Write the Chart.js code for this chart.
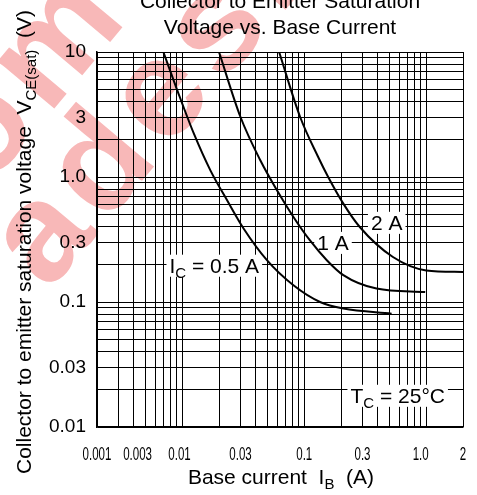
<!DOCTYPE html>
<html><head><meta charset="utf-8">
<script src="https://cdn.jsdelivr.net/npm/chart.js@4.4.1/dist/chart.umd.min.js"></script>
<style>html,body{margin:0;padding:0;background:#fff}#wrap{width:477px;height:495px;position:relative}</style>
</head><body><div id="wrap"><canvas id="c"></canvas></div>
<script>
// ---- data ----
const ib05 = [0.0070, 0.0091, 0.01245, 0.0170, 0.0233, 0.0318, 0.0494, 0.0815, 0.1346, 0.209, 0.52];
const vce05 = [10, 4.94, 2.22, 1.13, 0.651, 0.387, 0.216, 0.136, 0.100, 0.0886, 0.0807];
const ib1 = [0.020, 0.030, 0.0436, 0.0597, 0.0815, 0.111, 0.153, 0.209, 0.391, 0.98];
const vce1 = [10, 3.02, 1.36, 0.783, 0.479, 0.312, 0.216, 0.164, 0.128, 0.120];
const ib2 = [0.0622, 0.0925, 0.130, 0.157, 0.209, 0.285, 0.533, 1.0, 2.0];
const vce2 = [10, 3.02, 1.445, 1.0, 0.612, 0.398, 0.229, 0.179, 0.174];

const xGridValues = [0.002,0.003,0.004,0.005,0.006,0.007,0.008,0.009,
  0.01,0.02,0.03,0.04,0.05,0.06,0.07,0.08,0.09,
  0.1,0.2,0.3,0.4,0.5,0.6,0.7,0.8,0.9,1,2];
const yGridValues = [0.01,0.02,0.03,0.04,0.05,0.06,0.07,0.08,0.09,
  0.1,0.2,0.3,0.4,0.5,0.6,0.7,0.8,0.9,
  1,2,3,4,5,6,7,8,9,10];
const xTickValues = [0.002, 0.0043, 0.0095, 0.03, 0.1, 0.3, 0.9, 2];
const xTickLabels = ['0.001','0.003','0.01','0.03','0.1','0.3','1.0','2'];
const yTickValues = [0.01, 0.03, 0.1, 0.3, 1, 3, 10];
const yTickLabels = ['0.01','0.03','0.1','0.3','1.0','3','10'];

// curve labels: [parts, x value, y value]
const curveLabels = [
  [[{t:'2 A'}], 0.474, 0.434],
  [[{t:'1 A'}], 0.172, 0.30],
  [[{t:'I'},{t:'C',sub:true},{t:' = 0.5 A'}], 0.0183, 0.197],
  [[{t:'T'},{t:'C',sub:true},{t:' = 25°C'}], 0.583, 0.01794]
];

const FONT = "'Liberation Sans', Arial, Helvetica, sans-serif";
const XSCALE = 0.64; // horizontal squeeze of the x tick labels (condensed look)

function near(a,b){return Math.abs(Math.log10(a)-Math.log10(b))<1e-4;}
function inList(v,list){return list.some(u=>near(u,v));}
function labelFor(v,vals,labels){const i=vals.findIndex(u=>near(u,v));return i<0?'':labels[i];}
const xAll = [...new Set([...xGridValues,...xTickValues])].sort((a,b)=>a-b);
const yAll = [...new Set([...yGridValues,...yTickValues])].sort((a,b)=>a-b);

function subSize(s){return Math.round(s*0.72);}
function richWidth(ctx,parts,size){let w=0;for(const p of parts){ctx.font=`${p.sub?subSize(size):size}px ${FONT}`;w+=ctx.measureText(p.t).width;}return w;}
function drawRich(ctx,parts,x,y,size,align){
  const w=richWidth(ctx,parts,size);
  let cx = align==='center'? x-w/2 : (align==='right'? x-w : x);
  ctx.textAlign='left'; ctx.textBaseline='alphabetic';
  for(const p of parts){
    const s=p.sub?subSize(size):size;
    ctx.font=`${s}px ${FONT}`;
    ctx.fillText(p.t,cx,y+(p.sub?size*0.24:0));
    cx+=ctx.measureText(p.t).width;
  }
  return w;
}

const decor = {
  id:'decor',
  afterLayout(chart){
    const s=chart.scales.x;
    if(!s || s.__squeezed) return;
    s.__squeezed=true;
    const proto=Object.getPrototypeOf(s);
    s._computeLabelArea=function(){return undefined;};
    s.drawLabels=function(area){
      const items=this.getLabelItems(area);
      const saved=items.map(it=>it.options.translation);
      items.forEach(it=>{it.options.translation=[it.options.translation[0]/XSCALE,it.options.translation[1]];});
      const ctx=this.ctx; ctx.save(); ctx.scale(XSCALE,1);
      proto.drawLabels.call(this,area);
      ctx.restore();
      items.forEach((it,i)=>{it.options.translation=saved[i];});
    };
  },
  beforeDraw(chart){
    const ctx=chart.ctx;
    ctx.save();
    ctx.fillStyle='#fff'; ctx.fillRect(0,0,chart.width,chart.height);
    ctx.fillStyle='#f8b8b8';
    ctx.font=`bold 140px ${FONT}`;
    try{ctx.letterSpacing='10px';}catch(e){}
    ctx.textBaseline='alphabetic'; ctx.textAlign='left';
    const ang=-50*Math.PI/180;
    ctx.save();
    ctx.translate(105,225); ctx.rotate(ang);
    ctx.fillText('adesign', -ctx.measureText('a').width, 0);
    ctx.restore();
    ctx.save();
    ctx.translate(48,116); ctx.rotate(ang);
    ctx.fillText('comd', -ctx.measureText('co').width, 0);
    ctx.restore();
    ctx.restore();
  },
  beforeDatasetsDraw(chart){
    const ctx=chart.ctx, xs=chart.scales.x, ys=chart.scales.y;
    ctx.save();
    const size=21;
    for(const [parts,xv,yv] of curveLabels){
      const cx=xs.getPixelForValue(xv), cy=ys.getPixelForValue(yv);
      const w=richWidth(ctx,parts,size);
      ctx.fillStyle='#fff';
      ctx.fillRect(cx-w/2-3, cy-size*0.5, w+6, size*1.05);
      ctx.fillStyle='#000';
      drawRich(ctx,parts,cx,cy+size*0.36,size,'center');
    }
    ctx.restore();
  },
  afterDraw(chart){
    const ctx=chart.ctx;
    ctx.save();
    ctx.fillStyle='#000';
    ctx.textAlign='center'; ctx.textBaseline='alphabetic';
    ctx.font=`21px ${FONT}`;
    ctx.fillText('Collector to Emitter Saturation',280,7.5);
    ctx.fillText('Voltage vs. Base Current',280,34);
    drawRich(ctx,[{t:'Base current  I'},{t:'B',sub:true},{t:'  (A)'}],281,484,21,'center');
    ctx.save();
    ctx.translate(31,242); ctx.rotate(-Math.PI/2);
    drawRich(ctx,[{t:'Collector to emitter saturation voltage  V'},{t:'CE(sat)',sub:true},{t:'  (V)'}],0,0,21,'center');
    ctx.restore();
    ctx.restore();
  }
};

const ds = (xs,ys)=>xs.map((x,i)=>({x:x,y:ys[i]}));
const lineStyle = {borderColor:'#000',borderWidth:2,pointRadius:0,fill:false,cubicInterpolationMode:'monotone'};

new Chart(document.getElementById('c'),{
  type:'line',
  data:{datasets:[
    Object.assign({label:'IC = 0.5 A',data:ds(ib05,vce05)},lineStyle),
    Object.assign({label:'IC = 1 A',data:ds(ib1,vce1)},lineStyle),
    Object.assign({label:'IC = 2 A',data:ds(ib2,vce2)},lineStyle)
  ]},
  options:{
    responsive:true, maintainAspectRatio:false, animation:false, events:[],
    layout:{padding:{top:52,right:14,left:0,bottom:0}},
    plugins:{legend:{display:false},tooltip:{enabled:false},title:{display:false}},
    scales:{
      x:{type:'logarithmic',min:0.002,max:2,position:'bottom',
        afterBuildTicks(s){s.ticks=xAll.map(v=>({value:v}));},
        afterFit(s){s.height=68;s.paddingLeft=0;s.paddingRight=0;},
        ticks:{autoSkip:false,maxRotation:0,minRotation:0,padding:17,color:'#000',
          font:{family:FONT,size:18},
          callback:(v)=>labelFor(v,xTickValues,xTickLabels)},
        grid:{drawTicks:false,lineWidth:1,
          color:(c)=> (c.tick && inList(c.tick.value,xGridValues))?'#000':'rgba(0,0,0,0)'},
        border:{display:true,color:'#000',width:1.5}
      },
      y:{type:'logarithmic',min:0.01,max:10,position:'left',
        afterBuildTicks(s){s.ticks=yAll.map(v=>({value:v}));},
        afterFit(s){s.width=97;s.paddingTop=0;s.paddingBottom=0;},
        ticks:{autoSkip:false,padding:11,color:'#000',font:{family:FONT,size:19},
          callback:(v)=>labelFor(v,yTickValues,yTickLabels)},
        grid:{drawTicks:false,lineWidth:1,
          color:(c)=> (c.tick && inList(c.tick.value,yGridValues))?'#000':'rgba(0,0,0,0)'},
        border:{display:true,color:'#000',width:1.5}
      }
    }
  },
  plugins:[decor]
});
</script>
</body></html>
